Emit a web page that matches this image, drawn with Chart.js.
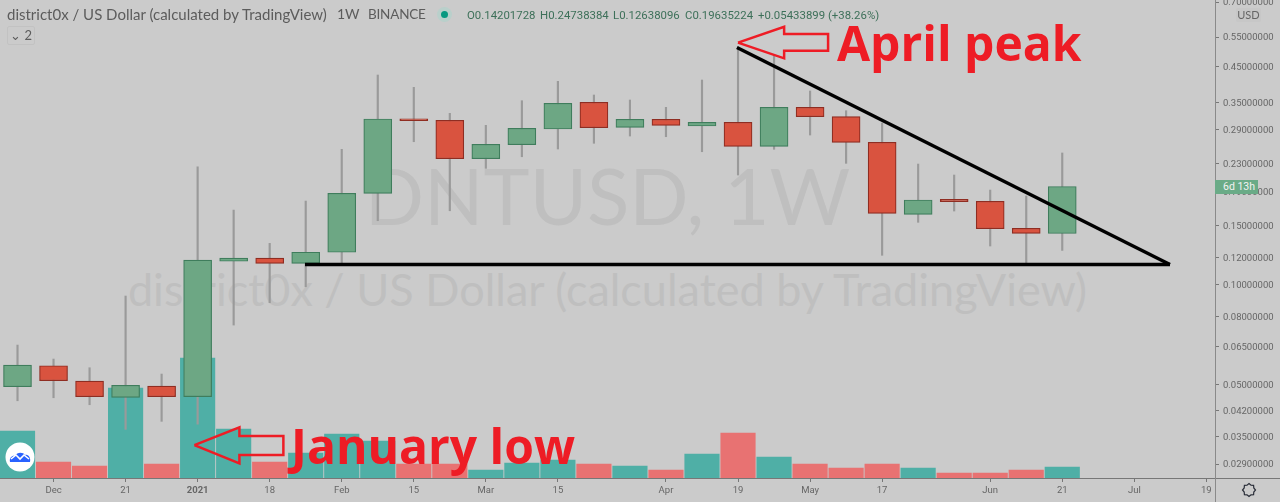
<!DOCTYPE html>
<html lang="en">
<head>
  <meta charset="UTF-8" />
  <title>DNTUSD, 1W</title>
  <script src="https://cdn.jsdelivr.net/npm/chart.js"></script>
  <style>
    html, body { margin: 0; padding: 0; background: #cbcbcb; }
    #stage { position: relative; width: 1280px; height: 502px; overflow: hidden; background: #cbcbcb; font-family: "Open Sans", sans-serif; }
    #stage canvas { position: absolute; left: 0; top: 0; }
    .abs { position: absolute; white-space: nowrap; }
    .mark { color: #bfbfbf; width: 1215px; left: 0; text-align: center; font-family: Lato, sans-serif; }
    .head { color: #5c5c5c; font-size: 15px; line-height: 18px; font-family: Lato, sans-serif; }
    .ohlc { color: #3d7059; font-size: 11.4px; line-height: 16px; font-family: Roboto, sans-serif; letter-spacing: 0; }
    .note { color: #ee1c25; font-family: "Open Sans", sans-serif; font-weight: 700; line-height: 1; }
  </style>
</head>
<body>
<div id="stage">
  <div class="abs mark" style="top:145px;font-size:78px;line-height:100px;">DNTUSD, 1W</div>
  <div class="abs mark" style="top:262px;font-size:45px;line-height:54px;">district0x / US Dollar (calculated by TradingView)</div>

  <canvas id="grafico" width="1280" height="502"></canvas>

  <div class="abs" style="left:0;top:478px;width:1280px;height:1px;background:#777;"></div>
  <div class="abs" style="left:1215px;top:0;width:1px;height:502px;background:#8a8a8a;"></div>

  <div class="abs head" style="left:7px;top:5px;">district0x / US Dollar (calculated by TradingView)</div>
  <div class="abs head" style="left:337px;top:5px;font-size:14px;">1W</div>
  <div class="abs head" style="left:368px;top:5px;font-size:13.5px;letter-spacing:-0.2px;">BINANCE</div>
  <div class="abs" style="left:437px;top:7px;width:15px;height:15px;border-radius:8px;background:#b9d0cb;"></div>
  <div class="abs" style="left:441px;top:11px;width:7px;height:7px;border-radius:4px;background:#089981;"></div>
  <div class="abs ohlc" style="left:467px;top:7px;">O0.14201728</div>
  <div class="abs ohlc" style="left:540px;top:7px;">H0.24738384</div>
  <div class="abs ohlc" style="left:613px;top:7px;">L0.12638096</div>
  <div class="abs ohlc" style="left:685px;top:7px;">C0.19635224</div>
  <div class="abs ohlc" style="left:758px;top:7px;">+0.05433899 (+38.26%)</div>
  <div class="abs head" style="left:7px;top:26px;width:28px;height:19px;border:1px solid #c2c2c2;border-radius:2px;box-sizing:border-box;font-size:13px;line-height:17px;text-align:center;">&#8964; 2</div>

  <div class="abs head" style="left:1236px;top:8px;width:25px;height:14px;background:#c7c7c7;border-radius:2px;font-size:11px;line-height:14px;text-align:center;color:#666;">USD</div>
  <div class="abs" style="left:1215px;top:180px;width:43px;height:14px;background:#6aab87;color:#f2f2f2;font:10.5px/14px Roboto,sans-serif;text-indent:8px;">6d 13h</div>

  <div class="abs note" style="left:837px;top:19px;font-size:48px;">April peak</div>
  <div class="abs note" style="left:291px;top:422px;font-size:48px;">January low</div>

  <svg class="abs" style="left:5px;top:442px;" width="30" height="30" viewBox="0 0 30 30">
    <circle cx="15" cy="15" r="14.5" fill="#fff"/>
    <path d="M5 20 C4 15 8 13 10 14 C12 10 18 10 20 13 C24 12 26 17 25 20 Z" fill="#2962ff"/>
    <path d="M6 17 L11 13 L15 17 L19 13 L24 17" fill="none" stroke="#fff" stroke-width="1.6"/>
  </svg>
  <svg class="abs" style="left:1241px;top:482px;" width="16" height="16" viewBox="0 0 16 16">
    <path d="M8 1.5 L10 3.2 L12.6 3.4 L12.8 6 L14.5 8 L12.8 10 L12.6 12.6 L10 12.8 L8 14.5 L6 12.8 L3.4 12.6 L3.2 10 L1.5 8 L3.2 6 L3.4 3.4 L6 3.2 Z" fill="none" stroke="#2a2e39" stroke-width="1.2"/>
  </svg>
</div>

<script>
  // candles
  const weeks = [0,1,2,3,4,5,6,7,8,9,10,11,12,13,14,15,16,17,18,19,20,21,22,23,24,25,26,27,28,29];
  const opens = [.04940,.05710,.05138,.04592,.04964,.04611,.1173,.1199,.1156,.1248,.1873,.3132,.3098,.2378,.2618,.2918,.3507,.2952,.3120,.2978,.3056,.2590,.3388,.3176,.2662,.1621,.1797,.1773,.1472,.14201728];
  const closes = [.05737,.05149,.04611,.04988,.04611,.1183,.1199,.1156,.1248,.1873,.3126,.3089,.2378,.2626,.2932,.3483,.2944,.3120,.2993,.3056,.2590,.3388,.3176,.2662,.1632,.1789,.1768,.1468,.1422,.19635224];
  const highs = [.06583,.05979,.05631,.09230,.05392,.2250,.1669,.1327,.1776,.2537,.4233,.3889,.3251,.2993,.3546,.4053,.3688,.3563,.3388,.4090,.5134,.4859,.3791,.3310,.3041,.2292,.2125,.1916,.1839,.24738384];
  const lows = [.04485,.04579,.04364,.03683,.03892,.03820,.07557,.08814,.0984,.1147,.1551,.2673,.1661,.2225,.2410,.2542,.2644,.2780,.2767,.2495,.2125,.2537,.2799,.2303,.1222,.1534,.1658,.1303,.1161,.12638096];
  const volumes = [470,160,120,900,140,1200,490,160,250,440,370,140,140,80,150,180,140,120,80,240,450,210,140,100,140,100,50,50,80,110];

  const priceTicks = [.7,.55,.45,.35,.29,.23,.19,.15,.12,.10,.08,.065,.05,.042,.035,.029];
  const weekTicks = [1,3,5,7,9,11,13,15,18,20,22,24,27,29,31,33];
  const weekLabels = ['Dec','21','2021','18','Feb','15','Mar','15','Apr','19','May','17','Jun','21','Jul','19'];

  // drawn trend lines
  const supportX = [7.98, 31.99];
  const supportY = [.1147, .1147];
  const resistX = [19.97, 31.99];
  const resistY = [.5116, .1147];

  // red arrows, in week / price
  const aprilArrowX = [20.0, 21.28, 21.28, 22.5, 22.5, 21.28, 21.28, 20.0];
  const aprilArrowY = [.5289, .5905, .5615, .5615, .5005, .5005, .4749, .5289];
  const januaryArrowX = [4.91, 6.16, 6.16, 7.38, 7.38, 6.16, 6.16, 4.91];
  const januaryArrowY = [.03305, .03733, .03517, .03517, .03085, .03085, .02913, .03305];

  const up = weeks.map((_, i) => closes[i] >= opens[i]);
  const pair = (xs, ys) => xs.map((x, i) => ({ x: x, y: ys[i] }));

  function lineSet(xs, ys, color, width) {
    return {
      type: 'line',
      data: pair(xs, ys),
      borderColor: color,
      borderWidth: width,
      pointRadius: 0,
      tension: 0,
      order: 1,
      yAxisID: 'y',
      borderCapStyle: 'butt',
      borderJoinStyle: 'miter'
    };
  }

  const tickFont = { family: 'Roboto, sans-serif', size: 9.5 };

  // tick labels must not push the plot area in
  function noPadding(axis) {
    axis.paddingTop = 0;
    axis.paddingBottom = 0;
    axis.paddingLeft = 0;
    axis.paddingRight = 0;
  }

  new Chart(document.getElementById('grafico'), {
    type: 'bar',
    data: {
      datasets: [
        lineSet(supportX, supportY, '#000', 3.5),
        lineSet(resistX, resistY, '#000', 3.5),
        lineSet(aprilArrowX, aprilArrowY, '#ee1c25', 2.5),
        lineSet(januaryArrowX, januaryArrowY, '#ee1c25', 2.5),
        {
          data: weeks.map((w, i) => ({ x: w, y: [opens[i], closes[i]] })),
          backgroundColor: up.map(u => u ? '#6da784' : '#d9533f'),
          borderColor: up.map(u => u ? '#3f7d5c' : '#8f2d22'),
          borderWidth: 1.2,
          borderSkipped: false,
          barThickness: 28,
          order: 2,
          yAxisID: 'y'
        },
        {
          data: weeks.map((w, i) => ({ x: w, y: [lows[i], highs[i]] })),
          backgroundColor: '#9a9a9a',
          barThickness: 1.5,
          order: 3,
          yAxisID: 'y'
        },
        {
          data: weeks.map((w, i) => ({ x: w, y: volumes[i] })),
          backgroundColor: up.map(u => u ? '#4fafa6' : '#e87272'),
          barThickness: 34.5,
          order: 4,
          yAxisID: 'vol'
        }
      ]
    },
    options: {
      responsive: false,
      animation: false,
      layout: { padding: 0 },
      datasets: { bar: { grouped: false } },
      plugins: { legend: { display: false }, tooltip: { enabled: false }, title: { display: false } },
      scales: {
        x: {
          type: 'linear',
          offset: false,
          min: -0.486,
          max: 33.24,
          grid: { display: true, drawOnChartArea: false, offset: false, color: '#777', tickLength: 4 },
          border: { display: false },
          afterBuildTicks: axis => { axis.ticks = weekTicks.map(v => ({ value: v })); },
          afterFit: axis => { axis.height = 24; noPadding(axis); },
          ticks: {
            autoSkip: false,
            maxRotation: 0,
            padding: 3,
            color: '#666',
            font: ctx => ({ family: tickFont.family, size: tickFont.size, weight: ctx.tick && ctx.tick.value === 5 ? 'bold' : 'normal' }),
            callback: v => weekLabels[weekTicks.indexOf(v)]
          }
        },
        y: {
          type: 'logarithmic',
          position: 'right',
          min: 0.02634,
          max: 0.7098,
          grid: { display: true, drawOnChartArea: false, color: '#777', tickLength: 4 },
          border: { display: false },
          afterBuildTicks: axis => { axis.ticks = priceTicks.map(v => ({ value: v })); },
          afterFit: axis => { axis.width = 65; noPadding(axis); },
          ticks: {
            autoSkip: false,
            padding: 4,
            labelOffset: 1,
            color: '#666',
            font: tickFont,
            callback: v => v.toFixed(8)
          }
        },
        vol: { type: 'linear', display: false, min: 0, max: 4780 }
      }
    }
  });
</script>
</body>
</html>
